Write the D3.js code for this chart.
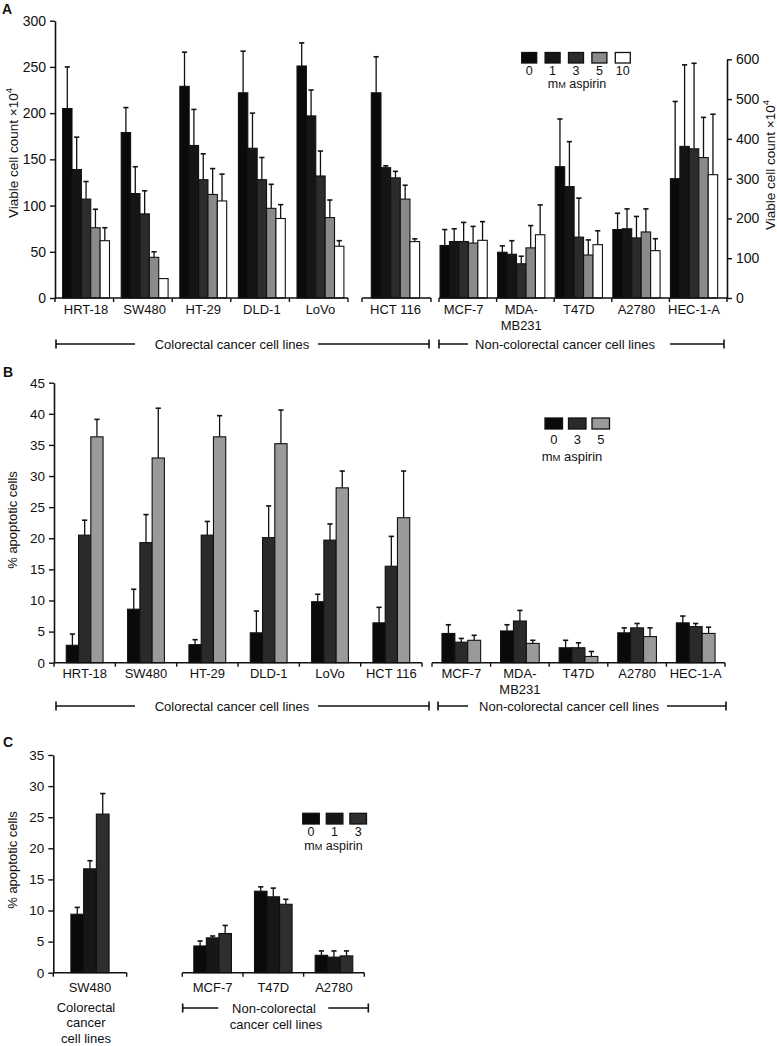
<!DOCTYPE html>
<html><head><meta charset="utf-8">
<script src="https://cdn.jsdelivr.net/npm/d3@7"></script>
<style>
body{margin:0;background:#fff}
text{font-family:"Liberation Sans",Arial,Helvetica,sans-serif;fill:#111}
</style>
</head><body>
<svg id="chart" width="777" height="1046" xmlns="http://www.w3.org/2000/svg"></svg>
<script>
// ================= DATA =================
// Panel A: viable cell count (x10^4); first six lines on left axis (0-300), last five on right axis (0-600)
const cellLinesA = ["HRT-18","SW480","HT-29","DLD-1","LoVo","HCT 116","MCF-7","MDA-MB231","T47D","A2780","HEC-1-A"];
const dosesA = ["0","1","3","5","10"];
const viable0mM  = [205,179,229,222,251,222,132,115,330,172,300];
const viable1mM  = [139,113,165,162,197,141,142,110,280,174,381];
const viable3mM  = [107, 91,128,128,132,130,142, 86,153,151,375];
const viable5mM  = [ 76, 44,112, 97, 87,107,138,126,108,166,353];
const viable10mM = [ 62, 21,105, 86, 56, 61,145,159,134,119,310];
const viableSd0mM  = [45,27,37,45,25,39,40,16,120,41,194];
const viableSd1mM  = [35,29,39,38,28, 2,32,34,113,50,205];
const viableSd3mM  = [19,25,28,24,27, 7,48,19, 98,54,215];
const viableSd5mM  = [20, 6,28,26,19,15,42,56, 38,58,101];
const viableSd10mM = [14, 0,29,15, 6, 3,47,75, 35,30,152];
const ticksALeft  = [0,50,100,150,200,250,300];
const ticksARight = [0,100,200,300,400,500,600];

// Panel B: % apoptotic cells
const cellLinesB = ["HRT-18","SW480","HT-29","DLD-1","LoVo","HCT 116","MCF-7","MDA-MB231","T47D","A2780","HEC-1-A"];
const dosesB = ["0","3","5"];
const apopB0mM = [2.8, 8.6, 2.9, 4.8, 9.8, 6.4,4.7,5.1,2.4,4.8,6.4];
const apopB3mM = [20.5,19.3,20.5,20.1,19.7,15.5,3.3,6.7,2.4,5.6,5.8];
const apopB5mM = [36.3,32.9,36.3,35.2,28.1,23.3,3.6,3.1,1.0,4.2,4.7];
const apopBSd0mM = [1.8,3.2,0.8,3.5,1.2,2.5,1.4,1.0,1.2,0.8,1.1];
const apopBSd3mM = [2.4,4.5,2.2,5.1,2.6,4.8,0.6,1.7,0.8,0.7,0.5];
const apopBSd5mM = [2.8,8.0,3.4,5.4,2.7,7.5,0.8,0.5,0.8,1.4,1.0];
const ticksB = [0,5,10,15,20,25,30,35,40,45];

// Panel C: % apoptotic cells
const cellLinesC = ["SW480","MCF-7","T47D","A2780"];
const dosesC = ["0","1","3"];
const apopC0mM = [9.4,4.3,13.1,2.8];
const apopC1mM = [16.7,5.6,12.2,2.5];
const apopC3mM = [25.5,6.3,11.0,2.7];
const apopCSd0mM = [1.1,0.8,0.7,0.7];
const apopCSd1mM = [1.3,0.3,1.4,1.0];
const apopCSd3mM = [3.3,1.3,0.8,0.8];
const ticksC = [0,5,10,15,20,25,30,35];

const groupColorectal = "Colorectal cancer cell lines";
const groupNonColorectal = "Non-colorectal cancer cell lines";

// ================= DRAWING =================
const svg = d3.select("#chart");
const INK = "#111";

function labelLines(name){
  return name.startsWith("MDA-") ? ["MDA-", name.slice(4)] : [name];
}

// draw one axis segment of grouped bars
function drawSegment(cfg){
  const g = svg.append("g");
  const n = cfg.idx.length;
  const names = cfg.idx.map(i => cfg.lines[i]);
  const x0 = d3.scaleBand().domain(names).range(cfg.range)
      .paddingInner(cfg.pad).paddingOuter(cfg.pad/2).align(cfg.align);
  const x1 = d3.scaleBand().domain(d3.range(cfg.means.length)).range([0, x0.bandwidth()]);
  const y = cfg.y;
  const base = y(0);
  cfg.idx.forEach(i => {
    const name = cfg.lines[i];
    const gx = x0(name);
    cfg.means.forEach((arr, k) => {
      const v = arr[i], sd = cfg.sds[k][i];
      const bx = gx + x1(k), bw = x1.bandwidth();
      if (sd > 0) {
        const cx = bx + bw/2;
        g.append("line").attr("x1",cx).attr("x2",cx).attr("y1",y(v)).attr("y2",y(v+sd))
          .attr("stroke",INK).attr("stroke-width",1.3);
        g.append("line").attr("x1",cx-2.6).attr("x2",cx+2.6).attr("y1",y(v+sd)).attr("y2",y(v+sd))
          .attr("stroke",INK).attr("stroke-width",1.6);
      }
      g.append("rect").attr("x",bx).attr("y",y(v)).attr("width",bw).attr("height",base-y(v))
        .attr("fill",cfg.colors[k]).attr("stroke",INK).attr("stroke-width",1.1);
    });
    const lc = gx + x0.bandwidth()/2;
    labelLines(name).forEach((t, j) => {
      g.append("text").attr("x",lc).attr("y",cfg.labelY + j*16).attr("text-anchor","middle")
        .attr("font-size",13).text(t);
    });
  });
  g.append("line").attr("x1",cfg.range[0]).attr("x2",cfg.range[1]).attr("y1",base).attr("y2",base)
    .attr("stroke",INK).attr("stroke-width",1.6);
  const step = x0.step();
  d3.range(n+1).forEach(j => {
    const tx = cfg.range[0] + j*step;
    g.append("line").attr("x1",tx).attr("x2",tx).attr("y1",base).attr("y2",base+4)
      .attr("stroke",INK).attr("stroke-width",1.4);
  });
}

function drawYAxis(x, y, ticks, side, fs){
  const ax = (side === "left" ? d3.axisLeft(y) : d3.axisRight(y))
    .tickValues(ticks).tickSize(5).tickSizeOuter(0).tickPadding(4);
  const g = svg.append("g").attr("transform",`translate(${x},0)`).call(ax);
  g.select(".domain").attr("stroke",INK).attr("stroke-width",1.6);
  g.selectAll(".tick line").attr("stroke",INK).attr("stroke-width",1.4);
  g.selectAll(".tick text").attr("font-size",fs).attr("font-family",'"Liberation Sans",Arial,sans-serif').attr("fill",INK);
}

function yLabel(x, cy, txt, sup, fs){
  const t = svg.append("text").attr("transform",`translate(${x},${cy}) rotate(-90)`)
    .attr("text-anchor","middle").attr("font-size",fs);
  t.append("tspan").text(txt);
  if (sup) t.append("tspan").attr("dy",-6).attr("font-size",fs*0.7).text(sup);
}

function legend(x0, y0, w, h, gap, doses, colors, cx, labelY, unitY, fs){
  doses.forEach((d, k) => {
    const x = x0 + k*(w+gap);
    svg.append("rect").attr("x",x).attr("y",y0).attr("width",w).attr("height",h)
      .attr("fill",colors[k]).attr("stroke",INK).attr("stroke-width",1.3);
    svg.append("text").attr("x",x+w/2).attr("y",labelY).attr("text-anchor","middle").attr("font-size",fs).text(d);
  });
  const t = svg.append("text").attr("x",cx).attr("y",unitY).attr("text-anchor","middle").attr("font-size",fs);
  t.append("tspan").text("m");
  t.append("tspan").attr("font-size",fs*0.73).text("M");
  t.append("tspan").text(" aspirin");
}

function bracket(y, x1, x2, gapL, gapR){
  svg.append("line").attr("x1",x1).attr("x2",gapL).attr("y1",y).attr("y2",y).attr("stroke",INK).attr("stroke-width",1.5);
  svg.append("line").attr("x1",gapR).attr("x2",x2).attr("y1",y).attr("y2",y).attr("stroke",INK).attr("stroke-width",1.5);
  svg.append("line").attr("x1",x1).attr("x2",x1).attr("y1",y-4.5).attr("y2",y+4.5).attr("stroke",INK).attr("stroke-width",1.6);
  svg.append("line").attr("x1",x2).attr("x2",x2).attr("y1",y-4.5).attr("y2",y+4.5).attr("stroke",INK).attr("stroke-width",1.6);
}

function panelLetter(x, y, l){
  svg.append("text").attr("x",x).attr("y",y).attr("font-size",14).attr("font-weight","bold").text(l);
}

// ---------- Panel A ----------
const colorsA = ["#0a0a0a","#151515","#2c2c2c","#8a8a8a","#ffffff"];
const meansA = [viable0mM, viable1mM, viable3mM, viable5mM, viable10mM];
const sdsA = [viableSd0mM, viableSd1mM, viableSd3mM, viableSd5mM, viableSd10mM];
const yAL = d3.scaleLinear().domain([0,300]).range([298, 20.7]);
const yAR = d3.scaleLinear().domain([0,600]).range([298, 59.3]);
drawSegment({lines:cellLinesA, idx:[0,1,2,3,4], range:[55,348], pad:0.2, align:0.65, y:yAL, means:meansA, sds:sdsA, colors:colorsA, labelY:314});
drawSegment({lines:cellLinesA, idx:[5], range:[362,431], pad:0.3, align:0.45, y:yAL, means:meansA, sds:sdsA, colors:colorsA, labelY:314});
drawSegment({lines:cellLinesA, idx:[6,7,8,9,10], range:[439,727], pad:0.18, align:0.1, y:yAR, means:meansA, sds:sdsA, colors:colorsA, labelY:314});
drawYAxis(55, yAL, ticksALeft, "left", 14);
drawYAxis(727, yAR, ticksARight, "right", 14);
yLabel(18, 153, "Viable cell count \u00d710", "4", 13.5);
svg.append("text").attr("transform","translate(775,165) rotate(-90)").attr("text-anchor","middle").attr("font-size",13.5)
  .call(t => { t.append("tspan").text("Viable cell count \u00d710"); t.append("tspan").attr("dy",-6).attr("font-size",9.5).text("4"); });
legend(521.7, 52.5, 15, 10.5, 8.4, dosesA, colorsA, 577, 74.5, 88, 12.5);
panelLetter(2, 13.5, "A");
bracket(344, 56, 429, 135, 318);
svg.append("text").attr("x",232).attr("y",348.5).attr("text-anchor","middle").attr("font-size",13).text(groupColorectal);
bracket(344, 439, 724, 468, 670);
svg.append("text").attr("x",565).attr("y",348.5).attr("text-anchor","middle").attr("font-size",13).text(groupNonColorectal);

// ---------- Panel B ----------
const colorsB = ["#0a0a0a","#2a2a2a","#9a9a9a"];
const meansB = [apopB0mM, apopB3mM, apopB5mM];
const sdsB = [apopBSd0mM, apopBSd3mM, apopBSd5mM];
const yB = d3.scaleLinear().domain([0,45]).range([662.7, 382.7]);
drawSegment({lines:cellLinesB, idx:[0,1,2,3,4,5], range:[54,422], pad:0.4, align:0.5, y:yB, means:meansB, sds:sdsB, colors:colorsB, labelY:678});
drawSegment({lines:cellLinesB, idx:[6,7,8,9,10], range:[432,725], pad:0.34, align:0.5, y:yB, means:meansB, sds:sdsB, colors:colorsB, labelY:678});
drawYAxis(54, yB, ticksB, "left", 13.5);
yLabel(17, 520, "% apoptotic cells", null, 13);
legend(545, 418, 17.5, 11, 6, dosesB, colorsB, 572, 444, 461, 13);
panelLetter(3, 377, "B");
bracket(706, 56, 429, 135, 318);
svg.append("text").attr("x",232).attr("y",710.5).attr("text-anchor","middle").attr("font-size",13).text(groupColorectal);
bracket(706, 438, 726, 468, 667);
svg.append("text").attr("x",569).attr("y",710.5).attr("text-anchor","middle").attr("font-size",13).text(groupNonColorectal);

// ---------- Panel C ----------
const colorsC = ["#0a0a0a","#171717","#2e2e2e"];
const meansC = [apopC0mM, apopC1mM, apopC3mM];
const sdsC = [apopCSd0mM, apopCSd1mM, apopCSd3mM];
const yC = d3.scaleLinear().domain([0,35]).range([972.7, 755]);
drawSegment({lines:cellLinesC, idx:[0], range:[53.3,126.7], pad:0.48, align:0.5, y:yC, means:meansC, sds:sdsC, colors:colorsC, labelY:992});
drawSegment({lines:cellLinesC, idx:[1,2,3], range:[182.3,364.3], pad:0.38, align:0.5, y:yC, means:meansC, sds:sdsC, colors:colorsC, labelY:992});
drawYAxis(53.3, yC, ticksC, "left", 13.5);
yLabel(17, 860, "% apoptotic cells", null, 13);
legend(302.7, 813.3, 16.6, 10.7, 7, dosesC, colorsC, 333.5, 835.5, 850, 12.5);
panelLetter(3, 747, "C");
["Colorectal","cancer","cell lines"].forEach((t,j) => {
  svg.append("text").attr("x",86).attr("y",1012 + j*15.3).attr("text-anchor","middle").attr("font-size",13).text(t);
});
bracket(1008, 182.7, 368.3, 218.3, 328.3);
svg.append("text").attr("x",274).attr("y",1012.5).attr("text-anchor","middle").attr("font-size",13).text("Non-colorectal");
svg.append("text").attr("x",276).attr("y",1029).attr("text-anchor","middle").attr("font-size",13).text("cancer cell lines");
</script>
</body></html>
